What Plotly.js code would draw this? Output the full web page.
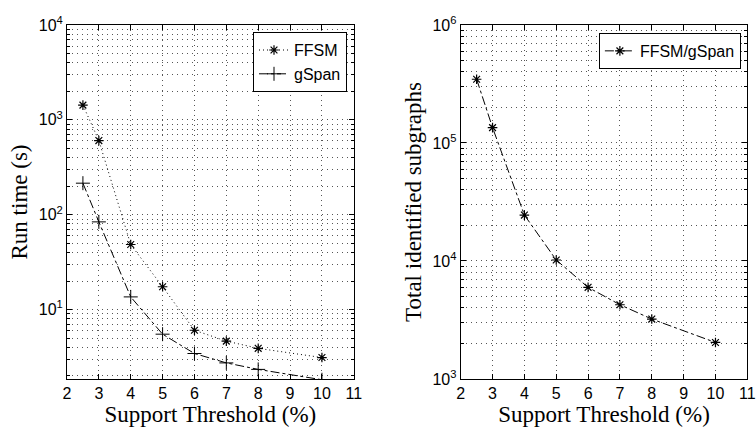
<!DOCTYPE html>
<html>
<head>
<meta charset="utf-8">
<script src="https://cdn.plot.ly/plotly-3.0.1.min.js"></script>
<style>html,body{margin:0;padding:0;background:#fff;}#chart{width:756px;height:428px;}</style>
</head>
<body>
<div id="chart"></div>
<script>
// Data
const supportX = [2.5, 3, 4, 5, 6, 7, 8, 10];
const ffsmTime = [1430, 605, 48.5, 17.4, 6.05, 4.65, 3.9, 3.12];
const gspanTime = [215, 84, 13.6, 5.5, 3.44, 2.74, 2.34, 1.82];
const totalSubgraphs = [347000, 135000, 24500, 10200, 5980, 4260, 3220, 2040];
const xTicks = [2, 3, 4, 5, 6, 7, 8, 9, 10, 11];
const leftYTickVals = [10, 100, 1000, 10000];
const leftYTickText = ['10<sup>1</sup>', '10<sup>2</sup>', '10<sup>3</sup>', '10<sup>4</sup>'];
const rightYTickVals = [1000, 10000, 100000, 1000000];
const rightYTickText = ['10<sup>3</sup>', '10<sup>4</sup>', '10<sup>5</sup>', '10<sup>6</sup>'];

const sans = 'Liberation Sans, Arial, sans-serif';
const serif = 'Liberation Serif, Times New Roman, serif';
const gridCol = '#555555';
const gridDash = '1px,4px';

const traces = [
  {x: supportX, y: ffsmTime, name: 'FFSM', mode: 'lines+markers', xaxis: 'x', yaxis: 'y', legend: 'legend',
   line: {color: 'black', width: 1, dash: '1px,3px'},
   marker: {symbol: 'asterisk-open', size: 8, color: 'black', line: {color: 'black', width: 1.2}}},
  {x: supportX, y: gspanTime, name: 'gSpan', mode: 'lines+markers', xaxis: 'x', yaxis: 'y', legend: 'legend',
   line: {color: 'black', width: 1, dash: 'dashdot'},
   marker: {symbol: 'cross-thin-open', size: 10, color: 'black', line: {color: 'black', width: 1}}},
  {x: supportX, y: totalSubgraphs, name: 'FFSM/gSpan', mode: 'lines+markers', xaxis: 'x2', yaxis: 'y2', legend: 'legend2',
   line: {color: 'black', width: 1, dash: 'dashdot'},
   marker: {symbol: 'asterisk-open', size: 8, color: 'black', line: {color: 'black', width: 1.2}}}
];

function xAxis(domain, anchor) {
  return {
    domain: domain, anchor: anchor, range: [2, 11], tickmode: 'array', tickvals: xTicks,
    ticks: 'inside', ticklen: 5, tickcolor: 'black', showline: true, linecolor: 'black', linewidth: 1, mirror: 'ticks',
    showgrid: true, gridcolor: gridCol, griddash: gridDash, gridwidth: 1, zeroline: false,
    tickfont: {family: sans, size: 16, color: 'black'},
    title: {text: 'Support Threshold (%)', font: {family: serif, size: 23, color: 'black'}, standoff: 0},
    automargin: false
  };
}
function yAxis(domain, anchor, range, vals, text, title) {
  return {
    domain: domain, anchor: anchor, type: 'log', range: range, tickmode: 'array', tickvals: vals, ticktext: text,
    ticks: 'inside', ticklen: 5, tickcolor: 'black', showline: true, linecolor: 'black', linewidth: 1, mirror: 'ticks',
    showgrid: true, gridcolor: gridCol, griddash: gridDash, gridwidth: 1, zeroline: false,
    minor: {dtick: 'D1', ticks: 'inside', ticklen: 3, tickcolor: 'black', showgrid: true, gridcolor: gridCol, griddash: gridDash, gridwidth: 1},
    tickfont: {family: sans, size: 16, color: 'black'},
    title: {text: title, font: {family: serif, size: 23, color: 'black'}, standoff: 4},
    automargin: false
  };
}

const layout = {
  width: 756, height: 428,
  margin: {l: 0, r: 0, t: 0, b: 0},
  paper_bgcolor: 'white', plot_bgcolor: 'white',
  showlegend: true,
  xaxis: xAxis([0.0886, 0.468], 'y'),
  yaxis: yAxis([0.1145, 0.9416], 'x', [0.268, 4], leftYTickVals, leftYTickText, 'Run time (s)'),
  xaxis2: xAxis([0.6094, 0.9885], 'y2'),
  yaxis2: yAxis([0.1145, 0.9416], 'x2', [3, 6], rightYTickVals, rightYTickText, 'Total identified subgraphs'),
  legend: {x: 0.459, y: 0.925, xanchor: 'right', yanchor: 'top', bgcolor: 'white', bordercolor: 'black', borderwidth: 1,
           font: {family: sans, size: 16, color: 'black'}, tracegroupgap: 0, itemwidth: 30},
  legend2: {x: 0.98, y: 0.923, xanchor: 'right', yanchor: 'top', bgcolor: 'white', bordercolor: 'black', borderwidth: 1,
           font: {family: sans, size: 16, color: 'black'}, itemwidth: 30}
};

Plotly.newPlot('chart', traces, layout, {staticPlot: true, displayModeBar: false});
</script>
</body>
</html>
